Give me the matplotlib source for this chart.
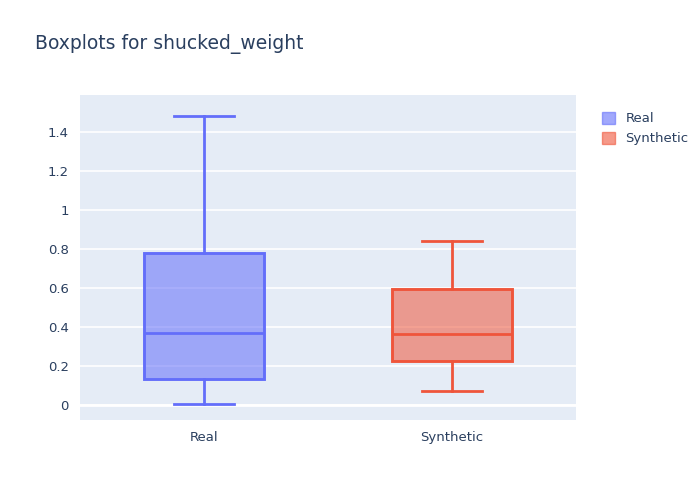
import matplotlib.pyplot as plt
from matplotlib.patches import Patch

names = ['Real', 'Synthetic']
mins = [0.005, 0.072]
q1s = [0.133, 0.226]
medians = [0.369, 0.364]
q3s = [0.779, 0.595]
maxs = [1.482, 0.841]
colors = ['#636efa', '#EF553B']

fig = plt.figure(figsize=(7, 5), dpi=100)
ax = fig.add_axes([80/700, 80/500, 496/700, 325/500])
ax.set_facecolor('#e5ecf6')

for i, n in enumerate(names):
    stats = [{'label': n, 'whislo': mins[i], 'q1': q1s[i], 'med': medians[i],
              'q3': q3s[i], 'whishi': maxs[i], 'fliers': []}]
    c = colors[i]
    ax.bxp(stats, positions=[i], widths=0.48, patch_artist=True,
           boxprops=dict(facecolor=c, alpha=0.55, edgecolor=c, linewidth=2),
           medianprops=dict(color=c, linewidth=2),
           whiskerprops=dict(color=c, linewidth=2),
           capprops=dict(color=c, linewidth=2), zorder=3)
    # redraw the box edge fully opaque
    ax.add_patch(plt.Rectangle((i - 0.24, q1s[i]), 0.48, q3s[i] - q1s[i],
                               fill=False, edgecolor=c, linewidth=2, zorder=4))

ax.set_xlim(-0.5, 1.5)
ax.set_ylim(-0.077, 1.59)
ax.set_yticks([0, 0.2, 0.4, 0.6, 0.8, 1, 1.2, 1.4])
ax.set_yticklabels(['0', '0.2', '0.4', '0.6', '0.8', '1', '1.2', '1.4'])
ax.set_xticks([0, 1])
ax.set_xticklabels(names)
ax.grid(axis='y', color='white', linewidth=1.2, zorder=0)
ax.set_axisbelow(True)
ax.axhline(0, color='white', linewidth=2, zorder=1)
for s in ax.spines.values():
    s.set_visible(False)
ax.tick_params(length=0, labelsize=9.5, colors='#2a3f5f', pad=8)

fig.text(35/700, 1 - 44/500, 'Boxplots for shucked_weight', fontsize=13.5,
         color='#2a3f5f', va='center')
handles = [Patch(facecolor=c, edgecolor=c, alpha=0.6, label=n) for n, c in zip(names, colors)]
fig.legend(handles=handles, loc='upper left', bbox_to_anchor=(590/700, 1 - 100/500),
           frameon=False, fontsize=9.5, labelcolor='#2a3f5f', handlelength=1, handleheight=1)

fig.savefig('out.png', dpi=100)
